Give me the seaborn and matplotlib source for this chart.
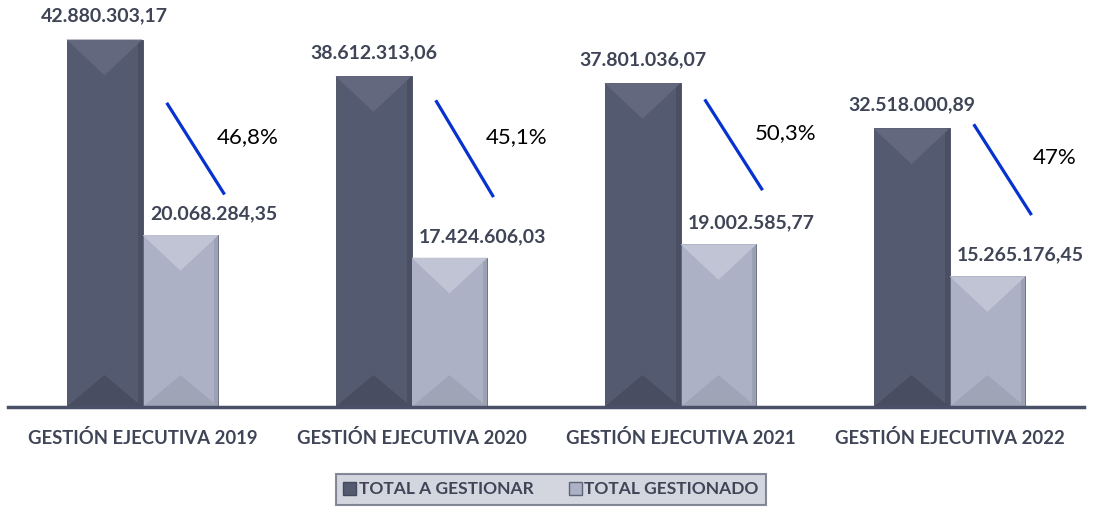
import pandas as pd
import seaborn as sns
import matplotlib.pyplot as plt
from matplotlib.patches import Polygon

# Chart values
categories = ['GESTIÓN EJECUTIVA 2019', 'GESTIÓN EJECUTIVA 2020',
              'GESTIÓN EJECUTIVA 2021', 'GESTIÓN EJECUTIVA 2022']
total_a_gestionar = [42880303.17, 38612313.06, 37801036.07, 32518000.89]
total_gestionado = [20068284.35, 17424606.03, 19002585.77, 15265176.45]
pct_labels = ['46,8%', '45,1%', '50,3%', '47%']
# ends of the blue marker lines (values in the bar scale)
line_top = [35.5e6, 35.8e6, 35.9e6, 33.0e6]
line_bottom = [24.8e6, 24.5e6, 25.3e6, 22.4e6]

series_names = ['TOTAL A GESTIONAR', 'TOTAL GESTIONADO']
colors = {'TOTAL A GESTIONAR': '#545a70', 'TOTAL GESTIONADO': '#adb1c5'}
shades = {
    'TOTAL A GESTIONAR': dict(top='#63687e', bottom='#484d61', body='#545a70', rim='#4a4f63', edge='#444a5c'),
    'TOTAL GESTIONADO': dict(top='#c0c4d5', bottom='#a0a4b7', body='#adb1c5', rim='#9da1b4', edge='#5f6376'),
}

df = pd.DataFrame({
    'categoria': categories * 2,
    'valor': total_a_gestionar + total_gestionado,
    'serie': [series_names[0]] * 4 + [series_names[1]] * 4,
})

def fmt_es(v):
    s = f'{v:,.2f}'
    return s.replace(',', 'X').replace('.', ',').replace('X', '.')

text_color = '#3f4456'
plt.rcParams['font.family'] = ['Lato', 'DejaVu Sans']

fig = plt.figure(figsize=(10.94, 5.12), dpi=100)
ax = fig.add_axes([8 / 1094, 1 - 407 / 512, 1076 / 1094, 407 / 512])
sns.barplot(data=df, x='categoria', y='valor', hue='serie', palette=colors,
            width=0.565, dodge=True, ax=ax, legend=False, saturation=1)
ax.set_xlim(-0.5, 3.5)
ax.set_ylim(0, 47.5e6)
ax.set_xlabel('')
ax.set_ylabel('')
ax.set_yticks([])
for side in ['top', 'right', 'left']:
    ax.spines[side].set_visible(False)
ax.spines['bottom'].set_color('#4a5068')
ax.spines['bottom'].set_linewidth(2.5)
ax.tick_params(axis='x', length=0, pad=16)
for lbl in ax.get_xticklabels():
    lbl.set_fontweight('bold')
    lbl.set_fontsize(13.3)
    lbl.set_color(text_color)

fig.canvas.draw()
to_disp = ax.transData
to_data = ax.transData.inverted()

# bevel effect on each bar
for name, cont in zip(series_names, ax.containers):
    sh = shades[name]
    for p in cont.patches:
        x0, y0 = p.get_x(), p.get_y()
        w, h = p.get_width(), p.get_height()
        (px0, py0) = to_disp.transform((x0, y0))
        (px1, py1) = to_disp.transform((x0 + w, y0 + h))
        pw = px1 - px0
        at = to_data.transform((px0 + pw / 2, py1 - pw * 0.47))
        ab = to_data.transform((px0 + pw / 2, py0 + pw * 0.42))
        cx = x0 + w / 2
        top, bot = y0 + h, y0
        rim = w * 0.06
        polys = [
            ([(x0 + w - rim, top), (x0 + w, top), (x0 + w, bot), (x0 + w - rim, bot)], sh['rim']),
            ([(x0, top), (x0 + w, top), (cx, at[1])], sh['top']),
            ([(x0, bot), (x0 + w, bot), (cx, ab[1])], sh['bottom']),
        ]
        for pts, c in polys:
            ax.add_patch(Polygon(pts, closed=True, facecolor=c, edgecolor='none', zorder=2.5))
        p.set_edgecolor(sh['edge'])
        p.set_linewidth(0.6)
        p.set_zorder(2.4)

# value labels
for i in range(4):
    ax.annotate(fmt_es(total_a_gestionar[i]), (i - 0.1413, total_a_gestionar[i]),
                xytext=(0, 11), textcoords='offset points', ha='center', va='bottom',
                fontsize=14, fontweight='bold', color=text_color)
    ax.annotate(fmt_es(total_gestionado[i]), (i + 0.1413 + 0.123, total_gestionado[i]),
                xytext=(0, 9), textcoords='offset points', ha='center', va='bottom',
                fontsize=14, fontweight='bold', color=text_color)
    ax.plot([i + 0.09, i + 0.305], [line_top[i], line_bottom[i]], color='#0632cf',
            linewidth=2.3, solid_capstyle='butt', zorder=3)
    ax.text(i + 0.39, (line_top[i] + line_bottom[i]) / 2 + 1.4e6, pct_labels[i],
            ha='center', va='center', fontsize=16, color='black')

# legend
handles = [plt.Rectangle((0, 0), 1, 1, facecolor=colors[n], edgecolor=shades[n]['edge'])
           for n in series_names]
leg = fig.legend(handles, series_names, loc='center', ncol=2,
                 bbox_to_anchor=(551 / 1094, 1 - 489.5 / 512), frameon=True,
                 fancybox=False, handlelength=0.75, handleheight=0.75, handletextpad=0.15,
                 columnspacing=2.0, borderpad=0.45, borderaxespad=0,
                 prop={'weight': 'bold', 'size': 12.5})
leg.get_frame().set_facecolor('#c9cbd7')
leg.get_frame().set_edgecolor('#6b6f80')
leg.get_frame().set_linewidth(1.5)
for t in leg.get_texts():
    t.set_color(text_color)

fig.savefig('out.png', dpi=100)
